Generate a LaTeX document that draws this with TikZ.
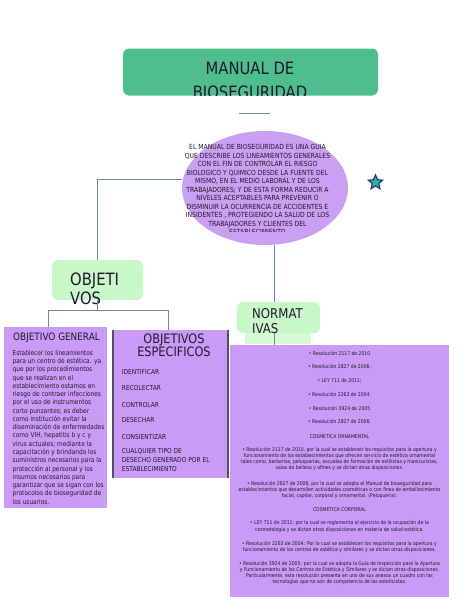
\documentclass[tikz,border=0pt]{standalone}
\usepackage{fontspec}
\setmainfont[FakeStretch=0.87]{DejaVu Sans}
\usepackage{xcolor}
\usetikzlibrary{shapes.geometric}
\definecolor{titlegreen}{RGB}{78,190,142}
\definecolor{lightgreen}{RGB}{200,248,200}
\definecolor{palegreen}{RGB}{214,250,214}
\definecolor{boxpurple}{RGB}{201,155,246}
\definecolor{ellpurple}{RGB}{202,160,242}
\definecolor{linkblue}{RGB}{105,135,175}
\definecolor{starteal}{RGB}{60,175,150}
\definecolor{starnavy}{RGB}{35,60,115}
\definecolor{textdark}{RGB}{35,25,45}
\definecolor{oeshade}{RGB}{85,80,95}

\begin{document}
\begin{tikzpicture}[x=1pt,y=-1pt,
  link/.style={linkblue, line width=0.9pt},
  greenbox/.style={fill=lightgreen, rounded corners=6pt},
  purplebox/.style={fill=boxpurple},
  tinytext/.style={font=\fontsize{5.2}{6}\selectfont, text=textdark, inner sep=0pt, anchor=base},
  itemtext/.style={font=\fontsize{6.8}{9}\selectfont, text=textdark, inner sep=0pt, align=left}
]

% Background
\useasboundingbox[fill=white] (0,0) rectangle (474,613);

% Title
\node[fill=titlegreen, rounded corners=6pt, inner sep=0pt,
      minimum width=255pt, minimum height=47pt] (title) at (250.5,72) {};
\begin{scope}
  \clip (title.north west) rectangle (title.south east);
  \node[font=\fontsize{17}{24.5}\selectfont, text=textdark, align=center,
        anchor=north, inner sep=0pt] (titletext) at (250,61.6) {MANUAL DE\\BIOSEGURIDAD};
\end{scope}

% Short rule under the title
\coordinate (ruleA) at (239,113);
\coordinate (ruleB) at (270,113);
\draw[link] (ruleA) -- (ruleB);

% Ellipse with the definition
\node[ellipse, fill=ellpurple, inner sep=0pt,
      minimum width=166pt, minimum height=114pt] (ell) at (265,188) {};
\begin{scope}
  \clip (150,130) rectangle (380,231.5);
  \node[font=\fontsize{7}{8.45}\selectfont, text=textdark, align=center,
        anchor=north, inner sep=0pt] (elltext) at (257.5,144.6) {%
    EL MANUAL DE BIOSEGURIDAD ES UNA GUIA\\
    QUE DESCRIBE LOS LINEAMIENTOS GENERALES\\
    CON EL FIN DE CONTROLAR EL RIESGO\\
    BIOLOGICO Y QUIMICO DESDE LA FUENTE DEL\\
    MISMO, EN EL MEDIO LABORAL Y DE LOS\\
    TRABAJADORES; Y DE ESTA FORMA REDUCIR A\\
    NIVELES ACEPTABLES PARA PREVENIR O\\
    DISMINUIR LA OCURRENCIA DE ACCIDENTES E\\
    INSIDENTES , PROTEGIENDO LA SALUD DE LOS\\
    TRABAJADORES Y CLIENTES DEL\\
    ESTABLECIMIENTO};
\end{scope}

% Star
\node[star, star points=5, star point ratio=2.2, fill=starteal, draw=starnavy,
      line width=1.2pt, minimum size=15pt, inner sep=0pt] (star) at (375.5,182.5) {};

% OBJETIVOS
\node[greenbox, inner sep=0pt, minimum width=91pt, minimum height=40pt] (obj) at (97.5,280) {};
\node[font=\fontsize{17}{19}\selectfont, text=textdark, align=left,
      anchor=north west, inner sep=0pt] (objtext) at (70,272.5) {OBJETI\\VOS};

% OBJETIVO GENERAL
\node[purplebox, inner sep=0pt, minimum width=103pt, minimum height=181pt] (og) at (55.5,417.5) {};
\node[font=\fontsize{10.2}{12}\selectfont, text=textdark, anchor=base, inner sep=0pt]
  (ogtitle) at (56.5,340) {OBJETIVO GENERAL};
\node[font=\fontsize{6.7}{8.28}\selectfont, text=textdark, align=left,
      anchor=north west, inner sep=0pt] (ogtext) at (12.5,349.9) {%
  Establecer los lineamientos\\
  para un centro de estética. ya\\
  que por los procedimientos\\
  que se realizan en el\\
  establecimiento estamos en\\
  riesgo de contraer infecciones\\
  por el uso de instrumentos\\
  corto punzantes; es deber\\
  como institución evitar la\\
  diseminación de enfermedades\\
  como VIH, hepatitis b y c y\\
  virus actuales; mediante la\\
  capacitación y brindando los\\
  suministros necesarios para la\\
  protección al personal y los\\
  insumos necesarios para\\
  garantizar que se sigan con los\\
  protocolos de bioseguridad de\\
  los usuarios.};

% OBJETIVOS ESPECIFICOS
\node[purplebox, inner sep=0pt, minimum width=115pt, minimum height=148pt] (oe) at (170.5,404) {};
\draw[oeshade, line width=1.5pt] (oe.north west) -- (oe.south west)
                                 (oe.north east) -- (oe.south east);
\node[font=\fontsize{13}{13.5}\selectfont, text=textdark, align=center,
      anchor=north, inner sep=0pt] (oetitle) at (174,333.5) {OBJETIVOS\\ESPECIFICOS};
\foreach \y/\val [count=\i] in {374/IDENTIFICAR, 390.5/RECOLECTAR, 407/CONTROLAR,
                               422.3/DESECHAR, 439/CONSIENTIZAR} {
    \node[itemtext, anchor=base west] (item\i) at (121.7,\y) {\val};
}
\node[itemtext, anchor=north west] (item6) at (121.7,448.4)
  {CUALQUIER TIPO DE\\DESECHO GENERADO POR EL\\ESTABLECIMIENTO};

% Connectors of OBJETIVOS
\draw[link] (obj.north) |- ([yshift=9pt]ell.west);
\coordinate (jl) at (48,310);
\coordinate (jr) at (168,310);
\draw[link] (obj.south) -- (obj.south |- jl);
\draw[link] (jl) -- (jr);
\draw[link] (jl) -- (jl |- og.north);
\draw[link] (jr) -- (jr |- oe.north);

% NORMATIVAS
\node[fill=palegreen, inner sep=0pt, minimum width=66pt, minimum height=34pt] (normbase) at (278,327) {};
\node[greenbox, inner sep=0pt, minimum width=83pt, minimum height=31pt] (norm) at (278.5,317.5) {};
\node[font=\fontsize{13.5}{15}\selectfont, text=textdark, align=left,
      anchor=north west, inner sep=0pt] (normtext) at (252,308.3) {NORMAT\\IVAS};

% Box with the rules
\node[purplebox, inner sep=0pt, minimum width=219pt, minimum height=252pt] (rules) at (339.5,471) {};
\foreach \y/\val [count=\i] in {
355.1/{• Resolución 2117 de 2010},
368.5/{• Resolución 2827 de 2006,},
382.5/{• LEY 711 de 2011;},
396.1/{• Resolución 2263 de 2004:},
410.1/{• Resolución 3924 de 2005},
423.5/{• Resolución 2827 de 2006:},
438.5/{COSMETICA ORNAMENTAL},
451.8/{• Resolución 2117 de 2010, por la cual se establecen los requisitos para la apertura y},
457.6/{funcionamiento de los establecimientos que ofrecen servicio de estética ornamental},
463.5/{tales como, barberías, peluquerías, escuelas de formación de estilistas y manicuristas,},
469.5/{salas de belleza y afines y se dictan otras disposiciones.},
485.1/{• Resolución 2827 de 2006, por la cual se adopta el Manual de bioseguridad para},
491.1/{establecimientos que desarrollen actividades cosméticas o con fines de embellecimiento},
497.1/{facial, capilar, corporal y ornamental. (Peluquería).},
511.1/{COSMETICA CORPORAL},
524.5/{• LEY 711 de 2011; por la cual se reglamenta el ejercicio de la ocupación de la},
531.1/{cosmetología y se dictan otras disposiciones en materia de salud estética.},
545.8/{• Resolución 2263 de 2004: Por la cual se establecen los requisitos para la apertura y},
551.8/{funcionamiento de los centros de estética y similares y se dictan otras disposiciones.},
565.8/{• Resolución 3924 de 2005: por la cual se adopta la Guía de Inspección para la Apertura},
571.8/{y Funcionamiento de los Centros de Estética y Similares y se dictan otras disposiciones.},
577.8/{Particularmente, esta resolución presenta en uno de sus anexos un cuadro con las},
583.8/{tecnologías que no son de competencia de las esteticistas.}
} {
    \node[tinytext] (rule\i) at (339.5,\y) {\val};
}

% Connectors of NORMATIVAS
\coordinate (nx) at (274,0);
\draw[link] (nx |- ell.south) -- (nx |- norm.north);
\draw[link] (nx |- norm.south) -- (nx |- rules.north);

\end{tikzpicture}
\end{document}
